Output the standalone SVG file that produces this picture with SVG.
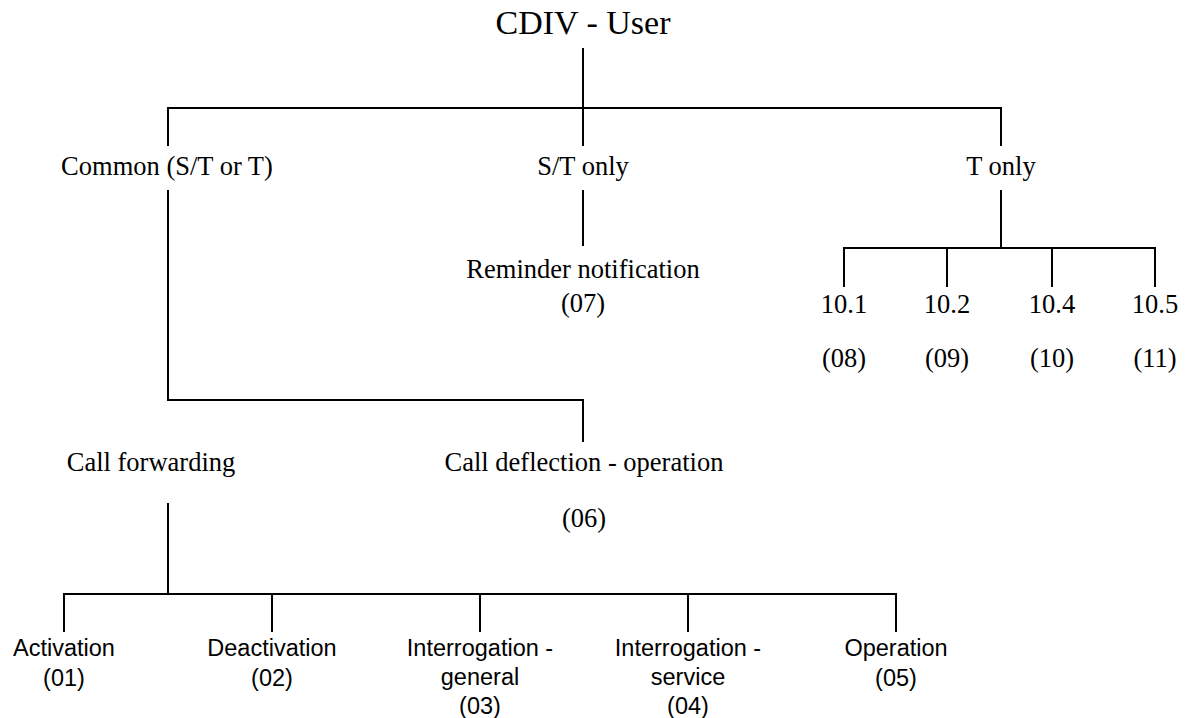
<svg xmlns="http://www.w3.org/2000/svg" width="1187" height="718" viewBox="0 0 1187 718">
<style>
.t{font-family:"Liberation Serif","Times New Roman",serif;font-size:26.5px;fill:#000;text-anchor:middle}
.a{font-family:"Liberation Sans",Arial,sans-serif;font-size:23.5px;fill:#000;text-anchor:middle}
.c line{stroke:#000;stroke-width:2;fill:none}
</style>
<rect width="1187" height="718" fill="#fff"/>
<g class="c" id="connectors">
<line x1="583" y1="48" x2="583" y2="146"/>
<line x1="167" y1="108" x2="1002" y2="108"/>
<line x1="168" y1="107" x2="168" y2="146"/>
<line x1="1001" y1="107" x2="1001" y2="146"/>
<line x1="168" y1="190" x2="168" y2="401"/>
<line x1="583" y1="190" x2="583" y2="246"/>
<line x1="1001" y1="190" x2="1001" y2="248"/>
<line x1="843" y1="248" x2="1156" y2="248"/>
<line x1="844" y1="247" x2="844" y2="287"/>
<line x1="947" y1="248" x2="947" y2="287"/>
<line x1="1052" y1="248" x2="1052" y2="287"/>
<line x1="1155" y1="247" x2="1155" y2="287"/>
<line x1="167" y1="400" x2="584" y2="400"/>
<line x1="583" y1="399" x2="583" y2="442"/>
<line x1="168" y1="503" x2="168" y2="594"/>
<line x1="63" y1="594" x2="897" y2="594"/>
<line x1="64" y1="593" x2="64" y2="632"/>
<line x1="272" y1="594" x2="272" y2="632"/>
<line x1="480" y1="594" x2="480" y2="632"/>
<line x1="688" y1="594" x2="688" y2="632"/>
<line x1="896" y1="593" x2="896" y2="632"/>
</g>
<g id="root"><text class="t" x="583" y="34" style="font-size:34px">CDIV - User</text></g>
<g id="common"><text class="t" x="167" y="175">Common (S/T or T)</text></g>
<g id="st-only"><text class="t" x="583" y="175">S/T only</text></g>
<g id="t-only"><text class="t" x="1001" y="175">T only</text></g>
<g id="reminder"><text class="t" x="583" y="278">Reminder notification</text><text class="t" x="583" y="312">(07)</text></g>
<g id="n101"><text class="t" x="844" y="313">10.1</text><text class="t" x="844" y="367">(08)</text></g>
<g id="n102"><text class="t" x="947" y="313">10.2</text><text class="t" x="947" y="367">(09)</text></g>
<g id="n104"><text class="t" x="1052" y="313">10.4</text><text class="t" x="1052" y="367">(10)</text></g>
<g id="n105"><text class="t" x="1155" y="313">10.5</text><text class="t" x="1155" y="367">(11)</text></g>
<g id="call-forwarding"><text class="t" x="151" y="471">Call forwarding</text></g>
<g id="call-deflection"><text class="t" x="584" y="471">Call deflection - operation</text><text class="t" x="584" y="527">(06)</text></g>
<g id="activation"><text class="a" x="64" y="656">Activation</text><text class="a" x="64" y="686">(01)</text></g>
<g id="deactivation"><text class="a" x="272" y="656">Deactivation</text><text class="a" x="272" y="686">(02)</text></g>
<g id="interrogation-general"><text class="a" x="480" y="656">Interrogation -</text><text class="a" x="480" y="685">general</text><text class="a" x="480" y="714">(03)</text></g>
<g id="interrogation-service"><text class="a" x="688" y="656">Interrogation -</text><text class="a" x="688" y="685">service</text><text class="a" x="688" y="714">(04)</text></g>
<g id="operation"><text class="a" x="896" y="656">Operation</text><text class="a" x="896" y="686">(05)</text></g>
</svg>
